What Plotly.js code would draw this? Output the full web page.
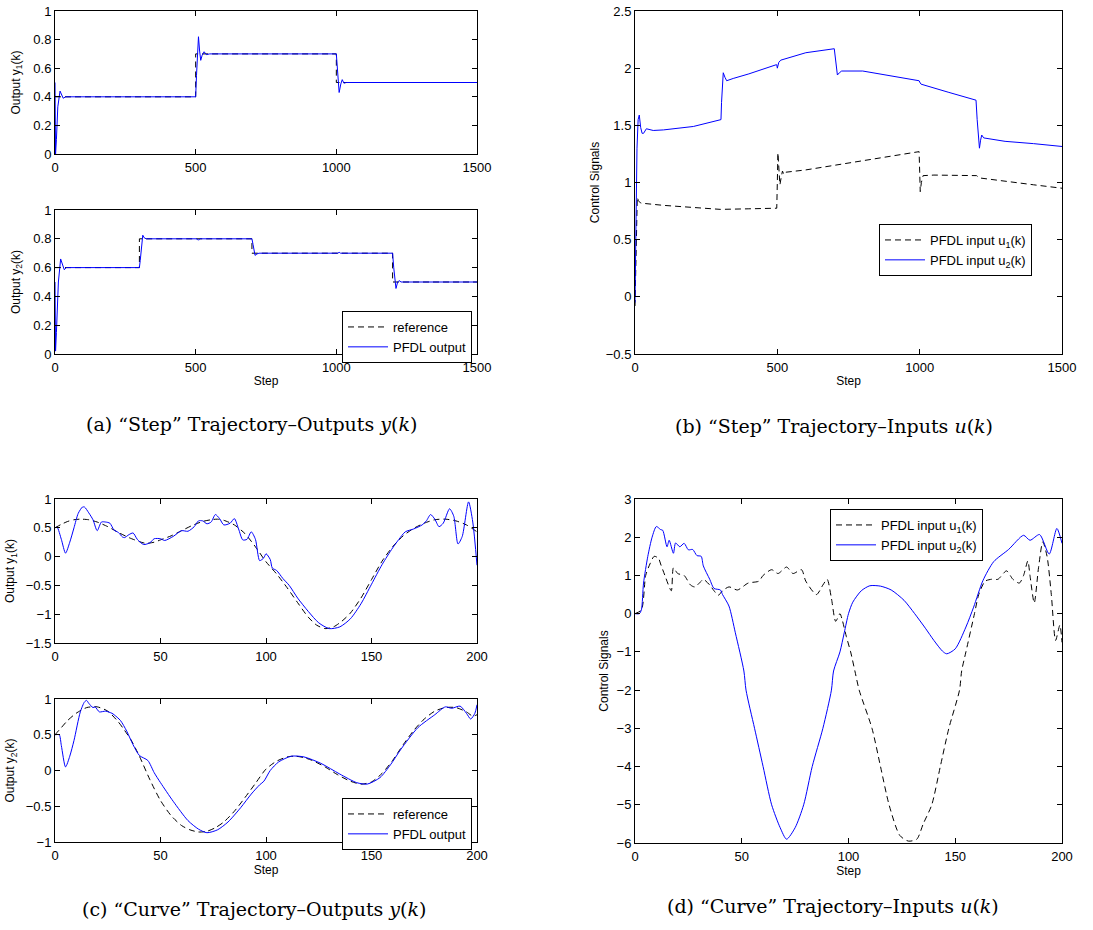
<!DOCTYPE html>
<html>
<head>
<meta charset="utf-8">
<script src="https://cdn.plot.ly/plotly-3.0.1.min.js"></script>
<style>html,body{margin:0;padding:0;background:#fff;}#chart{width:1093px;height:930px;}</style>
</head>
<body>
<div id="chart"></div>
<script>
// ---------- (a) Step trajectory outputs ----------
const stepRef1X = [0, 500, 500, 1000, 1000, 1500];
const stepRef1Y = [0.4, 0.4, 0.7, 0.7, 0.5, 0.5];
const stepOut1X = [0, 2, 5, 10, 18, 24, 29, 38, 500, 503, 507, 510, 514, 518, 523, 530, 538, 550, 1000, 1004, 1010, 1016, 1021, 1027, 1035, 1500];
const stepOut1Y = [0.5, 0.0, 0.1, 0.33, 0.44, 0.41, 0.39, 0.40, 0.40, 0.55, 0.75, 0.82, 0.72, 0.655, 0.69, 0.715, 0.695, 0.70, 0.70, 0.60, 0.43, 0.49, 0.52, 0.495, 0.50, 0.50];
const stepRef2X = [0, 300, 300, 700, 700, 1200, 1200, 1500];
const stepRef2Y = [0.6, 0.6, 0.8, 0.8, 0.7, 0.7, 0.5, 0.5];
const stepOut2X = [0, 2, 5, 12, 20, 26, 33, 40, 300, 303, 307, 312, 318, 325, 505, 510, 515, 700, 704, 711, 718, 725, 1005, 1010, 1015, 1200, 1204, 1212, 1218, 1223, 1230, 1500];
const stepOut2Y = [0.5, 0.02, 0.15, 0.5, 0.66, 0.62, 0.585, 0.6, 0.6, 0.65, 0.76, 0.825, 0.805, 0.8, 0.8, 0.79, 0.8, 0.8, 0.76, 0.685, 0.695, 0.7, 0.7, 0.706, 0.7, 0.7, 0.6, 0.455, 0.5, 0.51, 0.5, 0.5];

// ---------- (b) Step trajectory inputs ----------
const stepU1X = [0, 4, 8, 12, 20, 100, 200, 300, 400, 498, 500, 502, 506, 509, 514, 518, 523, 530, 600, 700, 800, 900, 998, 1000, 1002, 1006, 1012, 1050, 1150, 1200, 1210, 1300, 1400, 1500];
const stepU1Y = [-0.08, 0.5, 0.87, 0.84, 0.82, 0.80, 0.78, 0.765, 0.77, 0.775, 1.0, 1.26, 1.1, 0.98, 1.05, 1.1, 1.07, 1.09, 1.11, 1.15, 1.19, 1.23, 1.27, 1.1, 0.92, 1.0, 1.06, 1.065, 1.06, 1.06, 1.04, 1.01, 0.98, 0.95];
const stepU2X = [0, 3, 7, 11, 15, 20, 25, 30, 40, 64, 100, 205, 302, 304, 307, 310, 316, 322, 345, 400, 496, 498, 500, 505, 512, 600, 700, 703, 707, 711, 718, 726, 800, 900, 995, 998, 1002, 1005, 1100, 1198, 1202, 1206, 1210, 1214, 1218, 1225, 1300, 1400, 1500];
const stepU2Y = [-0.05, 0.5, 1.3, 1.55, 1.59, 1.48, 1.43, 1.43, 1.47, 1.455, 1.46, 1.49, 1.55, 1.7, 1.9, 1.96, 1.92, 1.89, 1.91, 1.95, 2.03, 2.03, 2.0, 2.05, 2.07, 2.135, 2.17, 2.1, 1.99, 1.94, 1.96, 1.975, 1.975, 1.93, 1.885, 1.89, 1.87, 1.86, 1.79, 1.72, 1.55, 1.37, 1.30, 1.37, 1.415, 1.39, 1.36, 1.34, 1.315];

// ---------- (c) Curve trajectory outputs ----------
const curveRef1X = [0, 3, 6, 9, 12, 16, 20, 25, 30, 35, 40, 43, 47, 50, 55, 60, 65, 70, 74, 77, 80, 85, 90, 95, 100, 105, 110, 115, 120, 124, 128, 132, 136, 140, 145, 150, 155, 160, 165, 170, 175, 180, 185, 190, 195, 200];
const curveRef1Y = [0.5, 0.56, 0.61, 0.64, 0.65, 0.64, 0.60, 0.52, 0.42, 0.33, 0.26, 0.23, 0.25, 0.29, 0.36, 0.45, 0.54, 0.61, 0.64, 0.65, 0.63, 0.55, 0.40, 0.17, -0.09, -0.30, -0.54, -0.80, -1.05, -1.19, -1.25, -1.22, -1.12, -0.98, -0.72, -0.40, -0.08, 0.17, 0.36, 0.49, 0.58, 0.64, 0.65, 0.62, 0.55, 0.43];
const curveOut1X = [0, 1, 3, 5, 7, 9, 11, 13, 14, 16, 18, 20, 22, 24, 26, 28, 30, 32, 33, 35, 37, 39, 42, 45, 47, 50, 52, 56, 60, 63, 66, 68, 70, 72, 74, 76, 78, 80, 83, 85, 87, 89, 91, 93, 95, 97, 99, 100, 102, 103, 105, 108, 111, 115, 120, 125, 130, 135, 140, 145, 150, 155, 160, 163, 166, 170, 174, 176, 178, 180, 182, 184, 187, 189, 191, 193, 196, 198, 200];
const curveOut1Y = [0.5, 0.51, 0.3, 0.06, 0.25, 0.5, 0.75, 0.86, 0.86, 0.76, 0.64, 0.45, 0.6, 0.6, 0.58, 0.46, 0.42, 0.34, 0.33, 0.38, 0.41, 0.3, 0.21, 0.24, 0.31, 0.31, 0.28, 0.35, 0.45, 0.44, 0.52, 0.62, 0.62, 0.57, 0.6, 0.73, 0.66, 0.55, 0.58, 0.66, 0.48, 0.29, 0.30, 0.43, 0.30, -0.07, -0.02, 0.05, -0.05, -0.2, -0.24, -0.38, -0.5, -0.72, -0.95, -1.15, -1.25, -1.22, -1.08, -0.82, -0.48, -0.14, 0.15, 0.30, 0.43, 0.48, 0.55, 0.62, 0.73, 0.65, 0.52, 0.58, 0.83, 0.70, 0.22, 0.35, 0.95, 0.60, -0.15];
const curveRef2X = [0, 3, 6, 10, 15, 20, 25, 30, 33, 36, 40, 45, 50, 55, 60, 64, 68, 72, 76, 80, 85, 90, 95, 100, 105, 110, 114, 118, 122, 128, 134, 140, 145, 150, 155, 160, 165, 170, 175, 180, 185, 190, 195, 198, 200];
const curveRef2Y = [0.5, 0.6, 0.7, 0.8, 0.88, 0.89, 0.83, 0.68, 0.56, 0.43, 0.2, -0.13, -0.42, -0.63, -0.77, -0.83, -0.86, -0.85, -0.8, -0.72, -0.57, -0.38, -0.18, 0.02, 0.13, 0.19, 0.2, 0.18, 0.14, 0.05, -0.06, -0.15, -0.19, -0.16, -0.04, 0.14, 0.36, 0.56, 0.72, 0.83, 0.88, 0.88, 0.82, 0.76, 0.78];
const curveOut2X = [0, 2, 3, 5, 7, 9, 12, 14, 15, 16, 18, 19, 21, 24, 27, 28, 31, 34, 37, 40, 44, 47, 50, 56, 63, 68, 72, 77, 82, 88, 93, 97, 99, 102, 106, 112, 118, 126, 135, 143, 148, 154, 159, 164, 172, 180, 185, 188, 192, 195, 197, 199, 200];
const curveOut2Y = [0.5, 0.5, 0.35, 0.05, 0.2, 0.42, 0.82, 0.96, 0.98, 0.94, 0.88, 0.89, 0.82, 0.83, 0.8, 0.78, 0.7, 0.55, 0.36, 0.21, 0.14, -0.03, -0.17, -0.43, -0.7, -0.82, -0.87, -0.83, -0.72, -0.52, -0.33, -0.2, -0.15, 0.0, 0.12, 0.2, 0.19, 0.1, -0.05, -0.17, -0.19, -0.1, 0.08, 0.3, 0.6, 0.78, 0.89, 0.87, 0.9, 0.8, 0.72, 0.8, 0.92];

// ---------- (d) Curve trajectory inputs ----------
const curveU1X = [0, 3, 5, 7, 9, 11, 12, 14, 17, 18, 20, 23, 26, 28, 31, 32, 35, 37, 39, 41, 44, 48, 53, 58, 60, 64, 67, 71, 74, 78, 80, 85, 88, 90, 92, 94, 96, 97, 99, 101, 103, 105, 111, 115, 119, 124, 128, 132, 135, 139, 143, 147, 152, 153, 155, 159, 161, 164, 167, 170, 174, 177, 180, 182, 184, 185, 187, 189, 191, 193, 195, 197, 199, 200];
const curveU1Y = [0, 0.1, 1.0, 1.3, 1.5, 1.45, 1.3, 1.0, 0.6, 1.2, 1.05, 1.0, 0.75, 0.7, 0.85, 0.9, 0.75, 0.6, 0.48, 0.6, 0.7, 0.62, 0.8, 0.85, 1.0, 1.15, 1.05, 1.22, 1.05, 1.15, 0.85, 0.5, 0.75, 0.9, 0.4, -0.2, 0.0, -0.15, -0.6, -1.0, -1.5, -2.0, -3.0, -4.0, -5.0, -5.8, -5.95, -5.9, -5.5, -5.0, -4.0, -3.0, -2.0, -1.5, -1.0, 0.0, 0.5, 0.85, 0.9, 0.9, 1.12, 0.9, 0.8, 1.0, 1.38, 1.0, 0.28, 1.2, 1.88, 1.5, 0.5, -0.7, -0.3, -0.75];
const curveU2X = [0, 2, 3, 4, 6, 8, 10, 12, 13, 15, 16, 18, 19, 21, 23, 25, 27, 29, 31, 32, 35, 37, 40, 41, 44, 47, 51, 52, 56, 60, 64, 68, 71, 75, 79, 83, 88, 92, 93, 96, 98, 100, 102, 106, 110, 115, 120, 126, 131, 136, 140, 144, 146, 150, 155, 158.6, 163, 168, 175, 182, 185, 189.5, 194, 197.6, 200];
const curveU2Y = [0, 0, 0.1, 0.8, 1.5, 2.0, 2.28, 2.2, 2.18, 1.75, 1.92, 1.58, 1.85, 1.75, 1.84, 1.67, 1.68, 1.52, 1.5, 1.25, 0.9, 0.66, 0.62, 0.5, 0.2, -0.5, -1.5, -2.0, -3.0, -4.0, -5.0, -5.6, -5.9, -5.6, -5.0, -4.0, -3.0, -2.0, -1.5, -1.0, -0.5, 0.0, 0.3, 0.6, 0.73, 0.72, 0.62, 0.35, 0.0, -0.38, -0.7, -0.98, -1.05, -0.92, -0.35, 0.17, 0.87, 1.36, 1.68, 2.05, 1.92, 2.07, 1.56, 2.23, 1.84];

// ---------- styling ----------
const BLUE = '#0000ff';
const DASH = '6px,4px';
const FONT = 'Liberation Sans, Arial, sans-serif';
const W = 1093, H = 930;
function px(x) { return x / W; }
function py(y) { return 1 - y / H; }

function line(x, y, xa, ya, name, dashed, legend, show, smooth) {
  const ln = dashed ? {color: '#000', width: 1, dash: DASH} : {color: BLUE, width: 1};
  if (smooth) { ln.shape = 'spline'; ln.smoothing = 0.7; }
  return {
    type: 'scatter', mode: 'lines', x: x, y: y, xaxis: xa, yaxis: ya, name: name,
    line: ln, legend: legend || 'legend', showlegend: !!show, hoverinfo: 'skip'
  };
}

const data = [
  line(stepRef1X, stepRef1Y, 'x', 'y', 'reference', true),
  line(stepOut1X, stepOut1Y, 'x', 'y', 'PFDL output', false),
  line(stepRef2X, stepRef2Y, 'x2', 'y2', 'reference', true, 'legend', true),
  line(stepOut2X, stepOut2Y, 'x2', 'y2', 'PFDL output', false, 'legend', true),
  line(stepU1X, stepU1Y, 'x3', 'y3', 'PFDL input u<sub>1</sub>(k)', true, 'legend2', true),
  line(stepU2X, stepU2Y, 'x3', 'y3', 'PFDL input u<sub>2</sub>(k)', false, 'legend2', true),
  line(curveRef1X, curveRef1Y, 'x4', 'y4', 'reference', true, 'legend', false, true),
  line(curveOut1X, curveOut1Y, 'x4', 'y4', 'PFDL output', false, 'legend', false, true),
  line(curveRef2X, curveRef2Y, 'x5', 'y5', 'reference', true, 'legend3', true, true),
  line(curveOut2X, curveOut2Y, 'x5', 'y5', 'PFDL output', false, 'legend3', true, true),
  line(curveU1X, curveU1Y, 'x6', 'y6', 'PFDL input u<sub>1</sub>(k)', true, 'legend4', true, true),
  line(curveU2X, curveU2Y, 'x6', 'y6', 'PFDL input u<sub>2</sub>(k)', false, 'legend4', true, true)
];

const TICKF = {family: FONT, size: 13, color: '#000'};
const TITLEF = {family: FONT, size: 12, color: '#000'};
function xax(dom, anchor, range, dtick, title) {
  const a = {domain: dom, anchor: anchor, range: range, dtick: dtick, tick0: range[0],
    ticks: 'inside', ticklen: 5, tickcolor: '#000', mirror: 'ticks', showline: true,
    linecolor: '#000', linewidth: 1, showgrid: false, zeroline: false, fixedrange: true,
    tickfont: TICKF, ticklabelstandoff: 1};
  if (title) a.title = {text: title, font: TITLEF, standoff: 3};
  return a;
}
function yax(dom, anchor, range, dtick, title, standoff) {
  return {domain: dom, anchor: anchor, range: range, dtick: dtick, tick0: range[0],
    ticks: 'inside', ticklen: 5, tickcolor: '#000', mirror: 'ticks', showline: true,
    linecolor: '#000', linewidth: 1, showgrid: false, zeroline: false, fixedrange: true,
    tickfont: TICKF, title: {text: title, font: TITLEF, standoff: standoff}};
}

const LX = [px(55), px(477)], RX = [px(635), px(1062)];
function legendBox(x, y) {
  return {x: px(x), y: py(y), xanchor: 'left', yanchor: 'top', bgcolor: '#fff',
    bordercolor: '#000', borderwidth: 1, font: {family: FONT, size: 13, color: '#000'},
    tracegroupgap: 0, itemwidth: 40, itemclick: false, itemdoubleclick: false};
}

const capFont = {family: 'DejaVu Serif, serif', size: 19, color: '#000'};
function caption(text, x, y) {
  return {text: text, x: px(x), y: py(y), xref: 'paper', yref: 'paper',
    xanchor: 'center', yanchor: 'middle', showarrow: false, font: capFont};
}

const layout = {
  width: W, height: H, margin: {l: 0, r: 0, t: 0, b: 0},
  paper_bgcolor: '#fff', plot_bgcolor: '#fff', font: {family: FONT, color: '#000'},
  xaxis: xax(LX, 'y', [0, 1500], 500),
  yaxis: yax([py(154), py(11)], 'x', [0, 1], 0.2, 'Output y<sub>1</sub>(k)', 10),
  xaxis2: xax(LX, 'y2', [0, 1500], 500, 'Step'),
  yaxis2: yax([py(354), py(210)], 'x2', [0, 1], 0.2, 'Output y<sub>2</sub>(k)', 10),
  xaxis3: xax(RX, 'y3', [0, 1500], 500, 'Step'),
  yaxis3: yax([py(354), py(11)], 'x3', [-0.5, 2.5], 0.5, 'Control Signals', 3),
  xaxis4: xax(LX, 'y4', [0, 200], 50),
  yaxis4: yax([py(643), py(499)], 'x4', [-1.5, 1], 0.5, 'Output y<sub>1</sub>(k)', 8),
  xaxis5: xax(LX, 'y5', [0, 200], 50, 'Step'),
  yaxis5: yax([py(842), py(699)], 'x5', [-1, 1], 0.5, 'Output y<sub>2</sub>(k)', 8),
  xaxis6: xax(RX, 'y6', [0, 200], 50, 'Step'),
  yaxis6: yax([py(843), py(499)], 'x6', [-6, 3], 1, 'Control Signals', 5),
  legend: legendBox(342, 311),
  legend2: legendBox(879, 224),
  legend3: legendBox(342, 798),
  legend4: legendBox(830, 509),
  annotations: [
    caption('(a) “Step” Trajectory–Outputs <i>y</i>(<i>k</i>)', 251, 424),
    caption('(b) “Step” Trajectory–Inputs <i>u</i>(<i>k</i>)', 834, 426),
    caption('(c) “Curve” Trajectory–Outputs <i>y</i>(<i>k</i>)', 254, 909),
    caption('(d) “Curve” Trajectory–Inputs <i>u</i>(<i>k</i>)', 833, 906)
  ]
};

Plotly.newPlot('chart', data, layout, {staticPlot: true, displayModeBar: false});
</script>
</body>
</html>
